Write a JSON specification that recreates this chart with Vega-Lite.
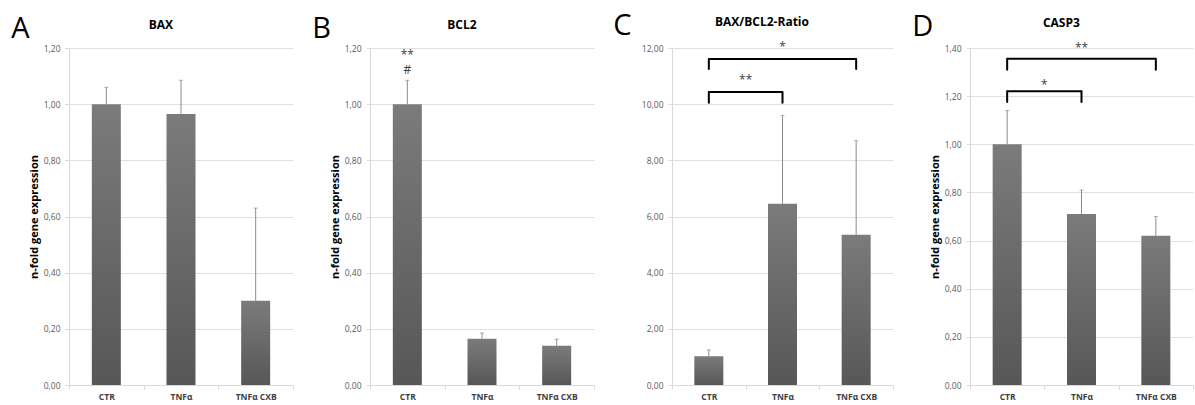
{
  "$schema": "https://vega.github.io/schema/vega-lite/v6.json",
  "background": "white",
  "padding": {"left": 11, "top": 11, "right": 2, "bottom": 2},
  "spacing": 18,
  "config": {
    "font": "Open Sans",
    "view": {"stroke": null},
    "title": {"fontSize": 12, "fontWeight": "bold", "color": "#000000", "frame": "bounds", "anchor": "middle", "offset": 12},
    "axisY": {"domainColor": "#d9d9d9", "tickColor": "#d9d9d9", "tickSize": 4, "gridColor": "#e0e0e0", "labelColor": "#595959", "labelFontSize": 8.5, "labelPadding": 5, "titleColor": "#000000", "titleFontSize": 11, "titleFontWeight": "bold", "titlePadding": 4},
    "axisX": {"labelFontWeight": "bold", "labelColor": "#404040", "labelFontSize": 8.5, "tickBand": "extent", "domainColor": "#d9d9d9", "tickColor": "#d9d9d9", "tickSize": 4, "grid": false, "labelAngle": 0, "title": null, "labelPadding": 3},
    "bar": {"width": 29},
    "rule": {"color": "#8c8c8c", "strokeWidth": 1},
    "tick": {"color": "#8c8c8c", "thickness": 1, "size": 4},
    "text": {"fontSize": 12, "color": "#404040"}
  },
  "datasets": {
    "bax": [
      {"group": "CTR", "mean": 1.0, "upper": 1.06},
      {"group": "TNFα", "mean": 0.965, "upper": 1.085},
      {"group": "TNFα CXB", "mean": 0.3, "upper": 0.63}
    ],
    "bcl2": [
      {"group": "CTR", "mean": 1.0, "upper": 1.085},
      {"group": "TNFα", "mean": 0.165, "upper": 0.185},
      {"group": "TNFα CXB", "mean": 0.14, "upper": 0.163}
    ],
    "ratio": [
      {"group": "CTR", "mean": 1.02, "upper": 1.25},
      {"group": "TNFα", "mean": 6.45, "upper": 9.6},
      {"group": "TNFα CXB", "mean": 5.35, "upper": 8.7}
    ],
    "casp3": [
      {"group": "CTR", "mean": 1.0, "upper": 1.14},
      {"group": "TNFα", "mean": 0.71, "upper": 0.81},
      {"group": "TNFα CXB", "mean": 0.62, "upper": 0.70}
    ],
    "bcl2_marks": [
      {"group": "CTR", "y": 1.175, "label": "**"},
      {"group": "CTR", "y": 1.12, "label": "#"}
    ],
    "ratio_hbr": [
      {"a": "CTR", "b": "TNFα", "y": 10.43},
      {"a": "CTR", "b": "TNFα CXB", "y": 11.61}
    ],
    "ratio_legs": [
      {"leg": "CTR", "y": 10.43, "ylow": 10.05},
      {"leg": "TNFα", "y": 10.43, "ylow": 10.05},
      {"leg": "CTR", "y": 11.61, "ylow": 11.25},
      {"leg": "TNFα CXB", "y": 11.61, "ylow": 11.25}
    ],
    "ratio_mid": [{"group": "CTR", "y": 10.86, "label": "**"}],
    "ratio_ctr": [{"group": "TNFα", "y": 12.04, "label": "*"}],
    "casp3_hbr": [
      {"a": "CTR", "b": "TNFα", "y": 1.22},
      {"a": "CTR", "b": "TNFα CXB", "y": 1.355}
    ],
    "casp3_legs": [
      {"leg": "CTR", "y": 1.22, "ylow": 1.176},
      {"leg": "TNFα", "y": 1.22, "ylow": 1.176},
      {"leg": "CTR", "y": 1.355, "ylow": 1.31},
      {"leg": "TNFα CXB", "y": 1.355, "ylow": 1.31}
    ],
    "casp3_mid": [{"group": "CTR", "y": 1.246, "label": "*"}],
    "casp3_ctr": [{"group": "TNFα", "y": 1.40, "label": "**"}]
  },
  "hconcat": [
    {
      "title": {"text": "A", "anchor": "start", "frame": "bounds", "fontSize": 29, "fontWeight": "normal", "offset": -25, "dx": -17, "color": "#000000"},
      "hconcat": [
        {
          "title": "BAX",
          "width": 224, "height": 337,
          "data": {"name": "bax"},
          "encoding": {
            "x": {"field": "group", "type": "nominal", "sort": null, "scale": {"paddingInner": 0, "paddingOuter": 0}}
          },
          "layer": [
            {"mark": {"type": "bar", "color": {"gradient": "linear", "x1": 0, "y1": 0, "x2": 0, "y2": 1, "stops": [{"offset": 0, "color": "#7b7b7b"}, {"offset": 1, "color": "#575757"}]}},
             "encoding": {"y": {"field": "mean", "type": "quantitative", "scale": {"domain": [0, 1.2]}, "axis": {"values": [0, 0.2, 0.4, 0.6, 0.8, 1.0, 1.2], "labelExpr": "replace(format(datum.value, '.2f'), '.', ',')", "title": "n-fold gene expression"}}}},
            {"mark": "rule", "encoding": {"y": {"field": "mean", "type": "quantitative"}, "y2": {"field": "upper"}}},
            {"mark": "tick", "encoding": {"y": {"field": "upper", "type": "quantitative"}}}
          ]
        }
      ]
    },
    {
      "title": {"text": "B", "anchor": "start", "frame": "bounds", "fontSize": 29, "fontWeight": "normal", "offset": -25, "dx": -17, "color": "#000000"},
      "hconcat": [
        {
          "title": "BCL2",
          "width": 224, "height": 337,
          "encoding": {
            "x": {"field": "group", "type": "nominal", "sort": null, "scale": {"paddingInner": 0, "paddingOuter": 0}}
          },
          "layer": [
            {"data": {"name": "bcl2"}, "mark": {"type": "bar", "color": {"gradient": "linear", "x1": 0, "y1": 0, "x2": 0, "y2": 1, "stops": [{"offset": 0, "color": "#7b7b7b"}, {"offset": 1, "color": "#575757"}]}},
             "encoding": {"y": {"field": "mean", "type": "quantitative", "scale": {"domain": [0, 1.2]}, "axis": {"values": [0, 0.2, 0.4, 0.6, 0.8, 1.0, 1.2], "labelExpr": "replace(format(datum.value, '.2f'), '.', ',')", "title": "n-fold gene expression"}}}},
            {"data": {"name": "bcl2"}, "mark": "rule", "encoding": {"y": {"field": "mean", "type": "quantitative"}, "y2": {"field": "upper"}}},
            {"data": {"name": "bcl2"}, "mark": "tick", "encoding": {"y": {"field": "upper", "type": "quantitative"}}},
            {"data": {"name": "bcl2_marks"}, "mark": {"type": "text", "baseline": "middle"}, "encoding": {"x": {"field": "group", "type": "nominal", "sort": null}, "y": {"field": "y", "type": "quantitative"}, "text": {"field": "label"}}}
          ]
        }
      ]
    },
    {
      "title": {"text": "C", "anchor": "start", "frame": "bounds", "fontSize": 29, "fontWeight": "normal", "offset": -25, "dx": -17, "color": "#000000"},
      "hconcat": [
        {
          "title": "BAX/BCL2-Ratio",
          "width": 221, "height": 337,
          "encoding": {
            "x": {"field": "group", "type": "nominal", "sort": null, "scale": {"paddingInner": 0, "paddingOuter": 0}}
          },
          "layer": [
            {"data": {"name": "ratio"}, "mark": {"type": "bar", "color": {"gradient": "linear", "x1": 0, "y1": 0, "x2": 0, "y2": 1, "stops": [{"offset": 0, "color": "#7b7b7b"}, {"offset": 1, "color": "#575757"}]}},
             "encoding": {"y": {"field": "mean", "type": "quantitative", "scale": {"domain": [0, 12]}, "axis": {"values": [0, 2, 4, 6, 8, 10, 12], "labelExpr": "replace(format(datum.value, '.2f'), '.', ',')", "title": " ", "titlePadding": 0}}}},
            {"data": {"name": "ratio"}, "mark": "rule", "encoding": {"y": {"field": "mean", "type": "quantitative"}, "y2": {"field": "upper"}}},
            {"data": {"name": "ratio"}, "mark": "tick", "encoding": {"y": {"field": "upper", "type": "quantitative"}}},
            {"data": {"name": "ratio_hbr"}, "mark": {"type": "rule", "color": "#000000", "strokeWidth": 2}, "encoding": {"x": {"field": "a", "type": "nominal", "sort": null}, "x2": {"field": "b"}, "y": {"field": "y", "type": "quantitative"}}},
            {"data": {"name": "ratio_legs"}, "mark": {"type": "rule", "color": "#000000", "strokeWidth": 2, "strokeCap": "round"}, "encoding": {"x": {"field": "leg", "type": "nominal", "sort": null}, "y": {"field": "y", "type": "quantitative"}, "y2": {"field": "ylow"}}},
            {"data": {"name": "ratio_mid"}, "mark": {"type": "text", "baseline": "middle"}, "encoding": {"x": {"field": "group", "type": "nominal", "sort": null, "bandPosition": 1}, "y": {"field": "y", "type": "quantitative"}, "text": {"field": "label"}}},
            {"data": {"name": "ratio_ctr"}, "mark": {"type": "text", "baseline": "middle"}, "encoding": {"x": {"field": "group", "type": "nominal", "sort": null}, "y": {"field": "y", "type": "quantitative"}, "text": {"field": "label"}}}
          ]
        }
      ]
    },
    {
      "title": {"text": "D", "anchor": "start", "frame": "bounds", "fontSize": 29, "fontWeight": "normal", "offset": -25, "dx": -17, "color": "#000000"},
      "hconcat": [
        {
          "title": "CASP3",
          "width": 223, "height": 337,
          "encoding": {
            "x": {"field": "group", "type": "nominal", "sort": null, "scale": {"paddingInner": 0, "paddingOuter": 0}}
          },
          "layer": [
            {"data": {"name": "casp3"}, "mark": {"type": "bar", "color": {"gradient": "linear", "x1": 0, "y1": 0, "x2": 0, "y2": 1, "stops": [{"offset": 0, "color": "#7b7b7b"}, {"offset": 1, "color": "#575757"}]}},
             "encoding": {"y": {"field": "mean", "type": "quantitative", "scale": {"domain": [0, 1.4]}, "axis": {"values": [0, 0.2, 0.4, 0.6, 0.8, 1.0, 1.2, 1.4], "labelExpr": "replace(format(datum.value, '.2f'), '.', ',')", "title": "n-fold gene expression"}}}},
            {"data": {"name": "casp3"}, "mark": "rule", "encoding": {"y": {"field": "mean", "type": "quantitative"}, "y2": {"field": "upper"}}},
            {"data": {"name": "casp3"}, "mark": "tick", "encoding": {"y": {"field": "upper", "type": "quantitative"}}},
            {"data": {"name": "casp3_hbr"}, "mark": {"type": "rule", "color": "#000000", "strokeWidth": 2}, "encoding": {"x": {"field": "a", "type": "nominal", "sort": null}, "x2": {"field": "b"}, "y": {"field": "y", "type": "quantitative"}}},
            {"data": {"name": "casp3_legs"}, "mark": {"type": "rule", "color": "#000000", "strokeWidth": 2, "strokeCap": "round"}, "encoding": {"x": {"field": "leg", "type": "nominal", "sort": null}, "y": {"field": "y", "type": "quantitative"}, "y2": {"field": "ylow"}}},
            {"data": {"name": "casp3_mid"}, "mark": {"type": "text", "baseline": "middle"}, "encoding": {"x": {"field": "group", "type": "nominal", "sort": null, "bandPosition": 1}, "y": {"field": "y", "type": "quantitative"}, "text": {"field": "label"}}},
            {"data": {"name": "casp3_ctr"}, "mark": {"type": "text", "baseline": "middle"}, "encoding": {"x": {"field": "group", "type": "nominal", "sort": null}, "y": {"field": "y", "type": "quantitative"}, "text": {"field": "label"}}}
          ]
        }
      ]
    }
  ]
}
